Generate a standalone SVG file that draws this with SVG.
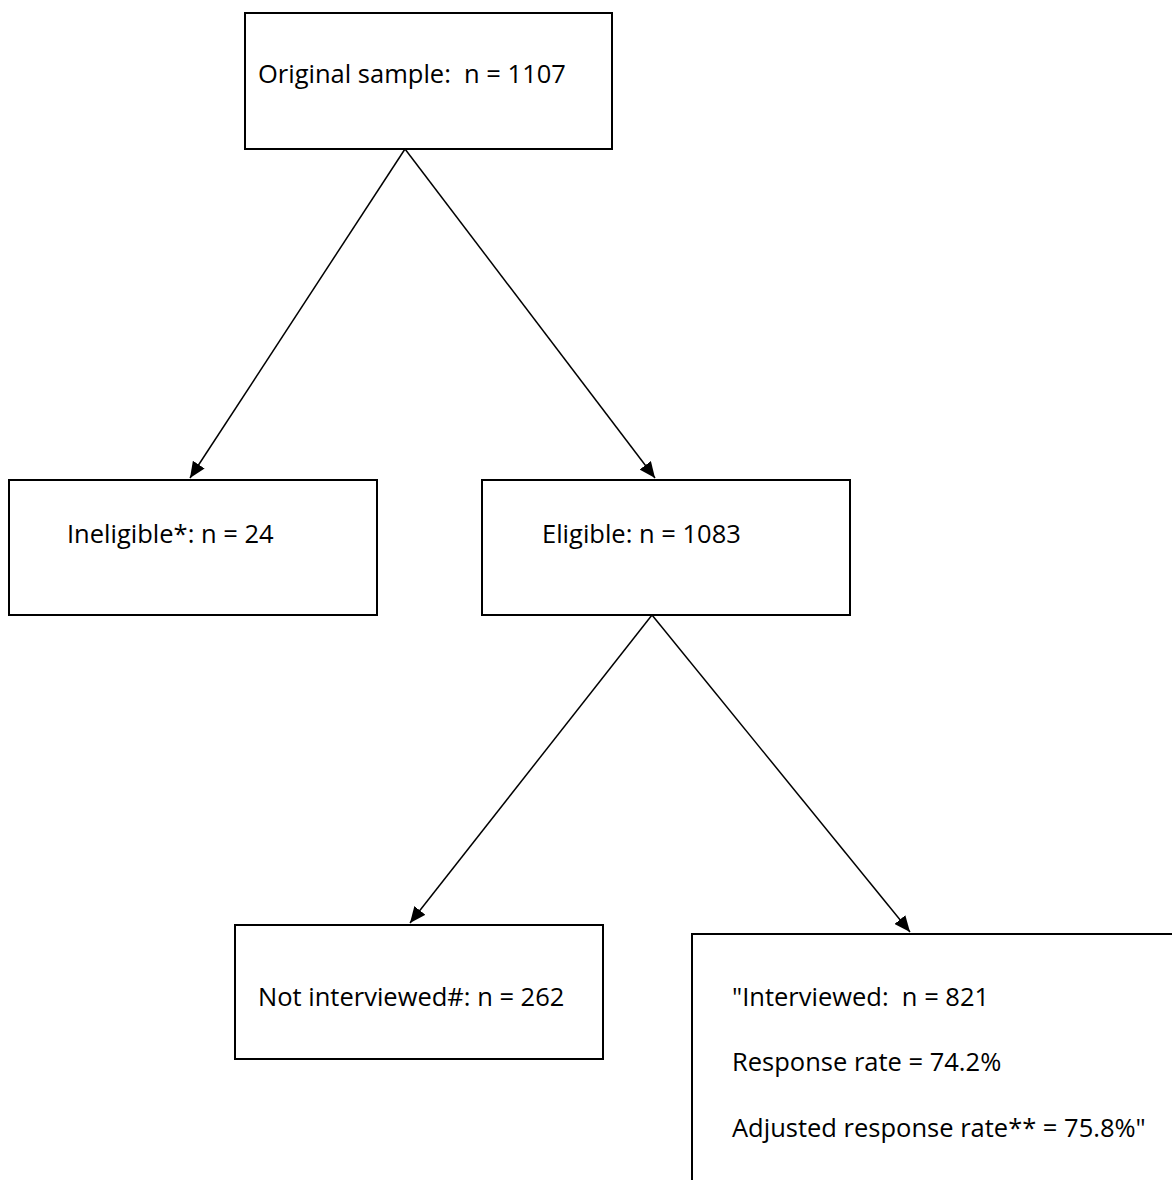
<svg xmlns="http://www.w3.org/2000/svg" width="1172" height="1180" viewBox="0 0 1172 1180">
<defs>
<marker id="ah" viewBox="0 0 16 14" refX="16" refY="7" markerWidth="16" markerHeight="14" markerUnits="userSpaceOnUse" orient="auto">
<path d="M0,0 L16,7 L0,14 z" fill="#000"/>
</marker>
<style>
.box{fill:#fff;stroke:#000;stroke-width:2}
.t{font-family:"Open Sans","Noto Sans",sans-serif;font-size:25.5px;fill:#000}
.c{stroke:#000;stroke-width:1.5;fill:none;marker-end:url(#ah)}
</style>
</defs>
<rect width="1172" height="1180" fill="#fff"/>
<g id="connectors">
<line class="c" x1="405" y1="149" x2="190" y2="478"/>
<line class="c" x1="405" y1="149" x2="655" y2="478"/>
<line class="c" x1="652" y1="615" x2="410" y2="923"/>
<line class="c" x1="652" y1="615" x2="910" y2="932"/>
</g>
<g id="original">
<rect class="box" x="245" y="13" width="367" height="136"/>
<text class="t" x="258" y="83" xml:space="preserve">Original sample:  n = 1107</text>
</g>
<g id="ineligible">
<rect class="box" x="9" y="480" width="368" height="135"/>
<text class="t" x="67" y="543">Ineligible*: n = 24</text>
</g>
<g id="eligible">
<rect class="box" x="482" y="480" width="368" height="135"/>
<text class="t" x="542" y="543">Eligible: n = 1083</text>
</g>
<g id="notinterviewed">
<rect class="box" x="235" y="925" width="368" height="134"/>
<text class="t" x="258" y="1006">Not interviewed#: n = 262</text>
</g>
<g id="interviewed">
<path class="box" d="M692,1182 L692,934 L1174,934" fill="none"/>
<text class="t" x="732" y="1006" xml:space="preserve">"Interviewed:  n = 821</text>
<text class="t" x="732" y="1071">Response rate = 74.2%</text>
<text class="t" x="732" y="1137">Adjusted response rate** = 75.8%"</text>
</g>
</svg>
